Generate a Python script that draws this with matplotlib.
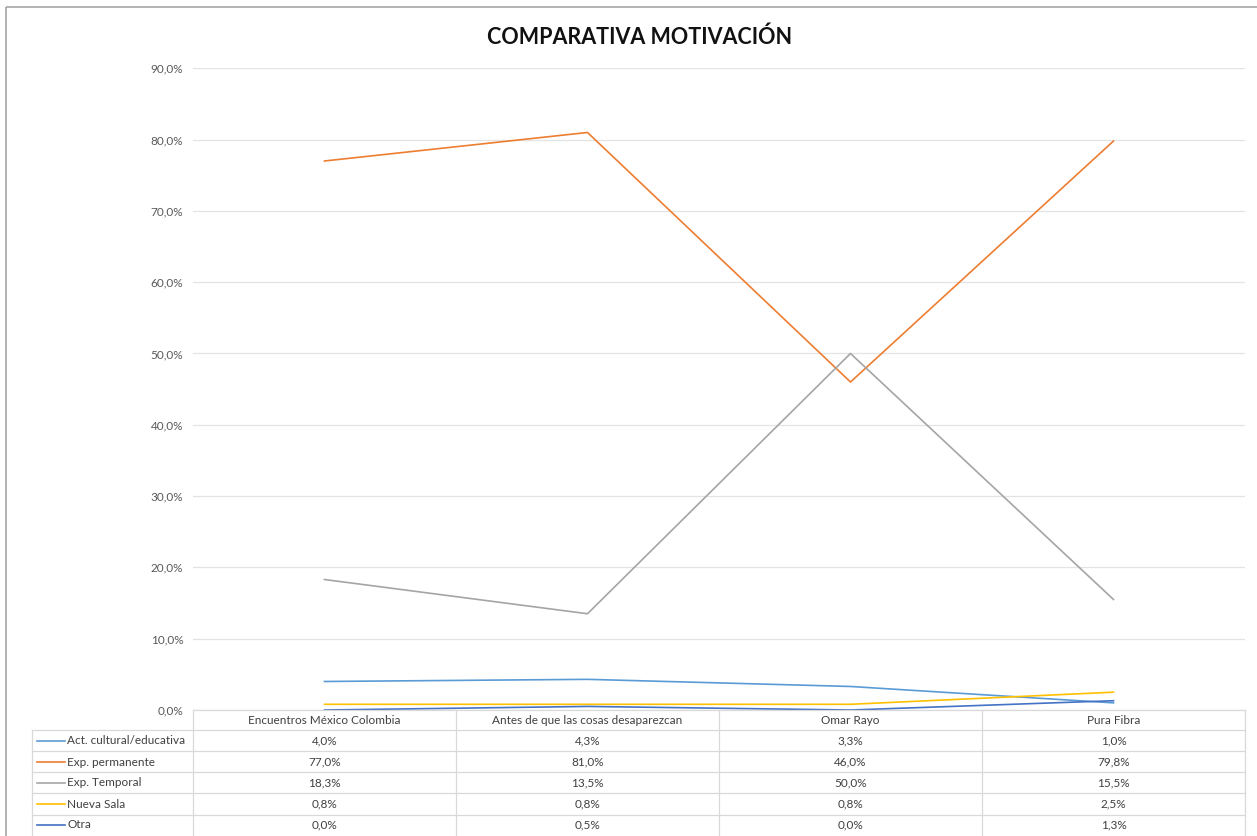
import matplotlib.pyplot as plt
import matplotlib.transforms as mtransforms
from matplotlib.lines import Line2D
from matplotlib.patches import Rectangle

# data
categories = [
    "Encuentros México Colombia",
    "Antes de que las cosas desaparezcan",
    "Omar Rayo",
    "Pura Fibra",
]
series_names = [
    "Act. cultural/educativa",
    "Exp. permanente",
    "Exp. Temporal",
    "Nueva Sala",
    "Otra",
]
act_cultural = [4.0, 4.3, 3.3, 1.0]
exp_permanente = [77.0, 81.0, 46.0, 79.8]
exp_temporal = [18.3, 13.5, 50.0, 15.5]
nueva_sala = [0.8, 0.8, 0.8, 2.5]
otra = [0.0, 0.5, 0.0, 1.3]
series_values = [act_cultural, exp_permanente, exp_temporal, nueva_sala, otra]
colors = ["#5B9BD5", "#ED7D31", "#A5A5A5", "#FFC000", "#4472C4"]
y_ticks = [0, 10, 20, 30, 40, 50, 60, 70, 80, 90]

W, H = 1257, 836
plt.rcParams["font.family"] = ["Lato", "DejaVu Sans"]

fig = plt.figure(figsize=(W / 100, H / 100), dpi=100)
# pixel coordinates measured from the top-left corner
px = mtransforms.Affine2D().scale(1 / W, -1 / H).translate(0, 1) + fig.transFigure


def pct(v):
    return f"{v:.1f}%".replace(".", ",")


fs = 8.5
txt_col = "#404040"

# plot area
left, right, top, bottom = 193, 1245, 68.3, 710
ax = fig.add_axes([left / W, (H - bottom) / H, (right - left) / W, (bottom - top) / H])
for vals, col in zip(series_values, colors):
    ax.plot(range(len(categories)), [v / 100 for v in vals], color=col, lw=1.2)
ax.set_xlim(-0.5, len(categories) - 0.5)
ax.set_ylim(0, 0.9)
ax.set_yticks([t / 100 for t in y_ticks])
ax.set_yticklabels([pct(t) for t in y_ticks], fontsize=fs, color="#595959")
ax.tick_params(axis="y", length=0, pad=7)
ax.set_xticks([])
for s in ax.spines.values():
    s.set_visible(False)
ax.grid(axis="y", color="#e3e3e3", lw=0.9)
ax.set_axisbelow(True)

fig.text(640, 37, "COMPARATIVA MOTIVACIÓN", transform=px, ha="center", va="center",
         fontsize=15.5, fontweight="bold", color="#111111")

# data table under the plot
grid_col = "#d9d9d9"
col_w = (right - left) / len(categories)
row_lines = [730, 751, 772, 793, 815]
fig.add_artist(Line2D([left, right], [bottom, bottom], transform=px, color=grid_col, lw=0.9))
for y in row_lines:
    fig.add_artist(Line2D([32, right], [y, y], transform=px, color=grid_col, lw=0.9))
fig.add_artist(Line2D([32, 32], [730, H], transform=px, color=grid_col, lw=0.9))
for i in range(len(categories) + 1):
    x = left + i * col_w
    fig.add_artist(Line2D([x, x], [bottom, H], transform=px, color=grid_col, lw=0.9))

for i, cat in enumerate(categories):
    fig.text(left + (i + 0.5) * col_w, 720, cat, transform=px, ha="center", va="center",
             fontsize=fs, color=txt_col)

row_h = 21
for r, (name, vals, col) in enumerate(zip(series_names, series_values, colors)):
    yc = 741 + r * row_h
    fig.add_artist(Line2D([37, 65], [yc, yc], transform=px, color=col, lw=1.2))
    fig.text(67, yc, name, transform=px, ha="left", va="center", fontsize=fs, color=txt_col)
    for i, v in enumerate(vals):
        fig.text(left + (i + 0.5) * col_w, yc, pct(v), transform=px, ha="center", va="center",
                 fontsize=fs, color=txt_col)

# chart border (top and left edges visible)
fig.add_artist(Rectangle((6, 7), W + 20, H + 20, transform=px, fill=False,
                         edgecolor="#a6a6a6", lw=1.2))

fig.savefig("out.png", dpi=100)
